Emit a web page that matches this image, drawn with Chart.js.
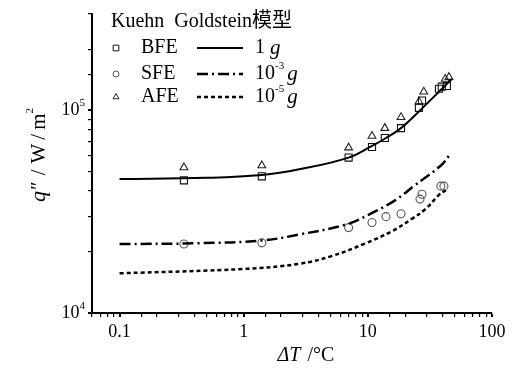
<!DOCTYPE html>
<html>
<head>
<meta charset="utf-8">
<script src="https://cdn.jsdelivr.net/npm/chart.js@4"></script>
<style>
  html, body { margin: 0; padding: 0; background: #fff; }
  #wrap { width: 512px; height: 372px; }
</style>
</head>
<body>
<div id="wrap"><canvas id="chart" width="512" height="372"></canvas></div>
<script>
// --- data ---
const model1gX = [0.1, 0.5, 1.4, 2.8, 7.0, 10.8, 14.0, 18.5, 25.8, 37.4, 47.6];
const model1gY = [45900, 46500, 48000, 51200, 58500, 66800, 73100, 81800, 98900, 123600, 143000];

const model3X = [0.1, 0.43, 1.4, 2.8, 6.6, 10.2, 16.8, 23.4, 38.8, 45.8];
const model3Y = [21900, 22100, 22800, 24400, 27300, 30600, 36200, 42300, 53500, 60500];

const model5X = [0.1, 1.0, 2.8, 5.1, 9.6, 15.6, 22.7, 29.3, 37.4, 42.5];
const model5Y = [15700, 16500, 17500, 19100, 22100, 25300, 29200, 32700, 38300, 40400];

const bfeX = [0.33, 1.4, 7.0, 10.8, 13.7, 18.5, 25.8, 27.3, 37.4, 39.4, 43.3];
const bfeY = [45200, 47300, 58500, 66000, 73100, 81800, 103000, 112000, 128000, 131000, 132000];

const sfeX = [0.33, 1.4, 7.0, 10.8, 14.0, 18.5, 26.3, 27.3, 38.7, 41.0];
const sfeY = [21900, 22200, 26400, 28000, 29900, 30900, 36500, 38600, 42300, 42300];

const afeX = [0.33, 1.4, 7.0, 10.8, 13.7, 18.5, 25.8, 28.2, 42.0, 45.0];
const afeY = [52300, 53500, 65500, 74800, 81800, 92500, 110600, 123600, 143000, 146000];

const xTickLabels = ['0.1', '1', '10', '100'];

const SERIF = '"Liberation Serif", "Times New Roman", serif';
const CJK = '"Liberation Serif", "Noto Sans CJK SC", serif';

const pts = (xs, ys) => xs.map((x, i) => ({ x: x, y: ys[i] }));
const isDecade = v => Math.abs(Math.log10(v) - Math.round(Math.log10(v))) < 1e-6;

// model curves
const lineSet = (label, xs, ys, dash, width) => ({
  label: label,
  data: pts(xs, ys),
  showLine: true,
  borderColor: '#000',
  borderWidth: width,
  borderDash: dash,
  pointRadius: 0,
  tension: 0.4,
  fill: false
});

// measured points
const pointSet = (label, xs, ys, style, r, color) => ({
  label: label,
  data: pts(xs, ys),
  showLine: false,
  pointStyle: style,
  pointRadius: r,
  pointBorderColor: color,
  pointBackgroundColor: 'rgba(255,255,255,0)',
  pointBorderWidth: 1.1
});

// --- text helpers ---
function drawRuns(ctx, runs, x, y) {
  let cx = x;
  runs.forEach(r => {
    ctx.font = r.font;
    ctx.fillText(r.t, cx, y + (r.dy || 0));
    cx += ctx.measureText(r.t).width + (r.gap || 0);
  });
  return cx;
}
function runsWidth(ctx, runs) {
  let w = 0;
  runs.forEach(r => { ctx.font = r.font; w += ctx.measureText(r.t).width + (r.gap || 0); });
  return w;
}

// legend, axis titles and y tick labels
const decorPlugin = {
  id: 'decor',
  afterDraw(chart) {
    const ctx = chart.ctx;
    const ds = chart.data.datasets;
    ctx.save();
    ctx.fillStyle = '#000';
    ctx.textBaseline = 'middle';

    // y tick labels 10^n
    const ys = chart.scales.y;
    ys.ticks.forEach(t => {
      if (!isDecade(t.value)) return;
      const py = ys.getPixelForValue(t.value);
      const exp = String(Math.round(Math.log10(t.value)));
      const runs = [
        { t: '10', font: '18px ' + SERIF },
        { t: exp, font: '11px ' + SERIF, dy: -7 }
      ];
      const w = runsWidth(ctx, runs);
      drawRuns(ctx, runs, ys.right - 7 - w, py);
    });

    // legend
    ctx.font = '20px ' + CJK;
    ctx.fillText('Kuehn  Goldstein模型', 111, 22);
    const rows = [48, 74, 97];
    const marks = [ds[3], ds[4], ds[5]];
    const lines = [ds[0], ds[1], ds[2]];
    const names = ['BFE', 'SFE', 'AFE'];
    const exps = [null, '-3', '-5'];
    rows.forEach((ry, i) => {
      const m = marks[i];
      ctx.fillStyle = '#fff';
      ctx.strokeStyle = m.pointBorderColor;
      ctx.lineWidth = 1;
      Chart.helpers.drawPoint(ctx, {
        pointStyle: m.pointStyle, radius: m.pointRadius - 1, borderWidth: 1
      }, 116, ry);
      ctx.fillStyle = '#000';
      ctx.font = '20px ' + SERIF;
      ctx.fillText(names[i], 141, ry);

      const l = lines[i];
      ctx.beginPath();
      ctx.setLineDash(l.borderDash || []);
      ctx.lineWidth = l.borderWidth;
      ctx.strokeStyle = '#000';
      ctx.moveTo(197, ry);
      ctx.lineTo(243, ry);
      ctx.stroke();
      ctx.setLineDash([]);

      const runs = exps[i] === null
        ? [{ t: '1 ', font: '20px ' + SERIF }, { t: 'g', font: 'italic 21px ' + SERIF }]
        : [{ t: '10', font: '20px ' + SERIF },
           { t: exps[i], font: '11px ' + SERIF, dy: -8, gap: 3 },
           { t: 'g', font: 'italic 21px ' + SERIF }];
      drawRuns(ctx, runs, 255, ry);
    });

    // x axis title
    const xRuns = [
      { t: 'ΔT', font: 'italic 20px ' + SERIF, gap: 2 },
      { t: ' /°C', font: '20px ' + SERIF }
    ];
    const xw = runsWidth(ctx, xRuns);
    drawRuns(ctx, xRuns, 306 - xw / 2, 356);

    // y axis title
    ctx.translate(39, 155);
    ctx.rotate(-Math.PI / 2);
    const yRuns = [
      { t: 'q', font: 'italic 22px ' + SERIF, gap: 1 },
      { t: '″', font: '21px ' + SERIF, gap: 6 },
      { t: '/', font: '21px ' + SERIF, gap: 6 },
      { t: 'W', font: '21px ' + SERIF, gap: 4 },
      { t: '/', font: '21px ' + SERIF, gap: 4 },
      { t: 'm', font: '21px ' + SERIF },
      { t: '2', font: '11px ' + SERIF, dy: -9 }
    ];
    const yw = runsWidth(ctx, yRuns);
    drawRuns(ctx, yRuns, -yw / 2, 0);
    ctx.restore();
  }
};

new Chart(document.getElementById('chart'), {
  type: 'scatter',
  data: {
    datasets: [
      lineSet('1 g', model1gX, model1gY, [], 2),
      lineSet('10^-3 g', model3X, model3Y, [11, 4, 2, 4], 2.5),
      lineSet('10^-5 g', model5X, model5Y, [4, 3], 2.5),
      pointSet('BFE', bfeX, bfeY, 'rect', 5, '#111'),
      pointSet('SFE', sfeX, sfeY, 'circle', 4, '#555'),
      pointSet('AFE', afeX, afeY, 'triangle', 4.5, '#222')
    ]
  },
  options: {
    responsive: false,
    animation: false,
    devicePixelRatio: 1,
    layout: { padding: { top: 10, right: 20, left: 0, bottom: 0 } },
    plugins: {
      legend: { display: false },
      tooltip: { enabled: false }
    },
    scales: {
      x: {
        type: 'logarithmic',
        min: 0.06,
        max: 100,
        afterFit: s => { s.height = 59; },
        border: { display: true, color: '#000', width: 2 },
        grid: {
          drawOnChartArea: false, drawTicks: true, tickLength: 4, color: '#000',
          lineWidth: c => (c.tick && isDecade(c.tick.value) ? 2 : 1.2)
        },
        ticks: {
          autoSkip: false,
          maxRotation: 0,
          padding: 4,
          color: '#000',
          font: { family: SERIF, size: 18 },
          callback: v => (isDecade(v) ? xTickLabels[Math.round(Math.log10(v)) + 1] : '')
        }
      },
      y: {
        type: 'logarithmic',
        min: 10000,
        max: 300000,
        afterFit: s => { s.width = 92; },
        border: { display: true, color: '#000', width: 2 },
        grid: {
          drawOnChartArea: false, drawTicks: true, tickLength: 4, color: '#000',
          lineWidth: c => (c.tick && isDecade(c.tick.value) ? 2 : 1.2)
        },
        ticks: {
          autoSkip: false,
          color: 'rgba(0,0,0,0)',
          font: { family: SERIF, size: 18 },
          callback: () => ''
        }
      }
    }
  },
  plugins: [decorPlugin]
});
</script>
</body>
</html>
